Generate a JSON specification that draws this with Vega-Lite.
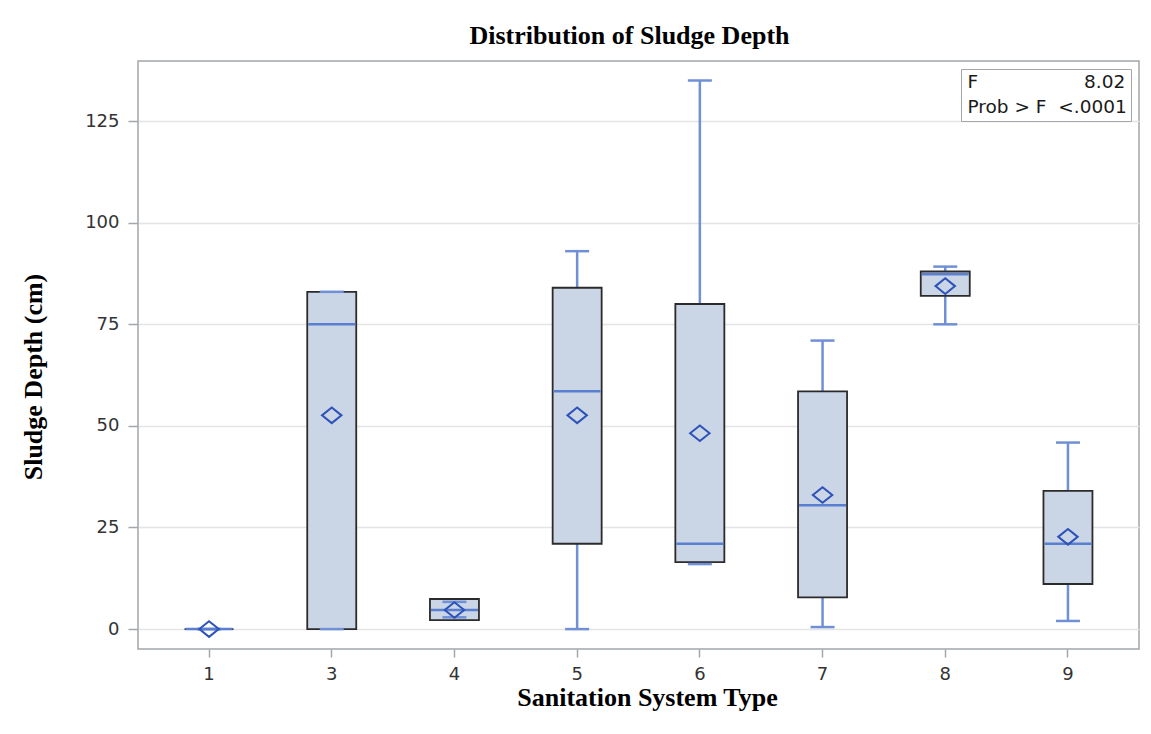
{
  "$schema": "https://vega.github.io/schema/vega-lite/v6.json",
  "width": 1001,
  "height": 588,
  "autosize": "none",
  "padding": {"left": 138, "top": 61, "right": 12, "bottom": 85},
  "background": "white",
  "title": {
    "text": "Distribution of Sludge Depth",
    "font": "Liberation Serif",
    "fontSize": 26,
    "fontWeight": "bold",
    "color": "#000000",
    "anchor": "middle",
    "baseline": "alphabetic",
    "offset": -9,
    "dx": -9
  },
  "datasets": {
    "boxes": [
      {"type": "1", "min": 0, "q1": 0, "median": 0, "q3": 0, "max": 0, "mean": 0},
      {"type": "3", "min": 0, "q1": 0, "median": 75, "q3": 83, "max": 83, "mean": 52.6},
      {"type": "4", "min": 2.9, "q1": 2.2, "median": 4.7, "q3": 7.4, "max": 6.7, "mean": 4.7},
      {"type": "5", "min": 0, "q1": 21, "median": 58.5, "q3": 84, "max": 93, "mean": 52.6},
      {"type": "6", "min": 16, "q1": 16.5, "median": 21, "q3": 80, "max": 135, "mean": 48.2},
      {"type": "7", "min": 0.5, "q1": 7.8, "median": 30.5, "q3": 58.5, "max": 71, "mean": 33},
      {"type": "8", "min": 75, "q1": 82, "median": 87.3, "q3": 88, "max": 89.2, "mean": 84.4},
      {"type": "9", "min": 2, "q1": 11.1, "median": 21, "q3": 34, "max": 45.9, "mean": 22.7}
    ],
    "stats": [
      {"stat": "F\u00a0\u00a0\u00a0\u00a0\u00a0\u00a0\u00a0\u00a0\u00a0\u00a0\u00a0\u00a0\u00a0\u00a0\u00a0\u00a0\u00a0\u00a08.02"},
      {"stat": "Prob > F\u00a0\u00a0<.0001"}
    ]
  },
  "layer": [
    {
      "data": {"name": "boxes"},
      "encoding": {
        "x": {
          "field": "type",
          "type": "nominal",
          "sort": ["1", "3", "4", "5", "6", "7", "8", "9"],
          "scale": {"paddingInner": 0, "paddingOuter": 0.079},
          "axis": {
            "title": "Sanitation System Type",
            "titleX": 509,
            "titleY": 56,
            "titleAlign": "center",
            "titleBaseline": "alphabetic"
          }
        }
      },
      "layer": [
        {
          "mark": {"type": "rule", "color": "#6f90d6", "strokeWidth": 2.5},
          "encoding": {
            "y": {
              "field": "min",
              "type": "quantitative",
              "scale": {"domain": [-4.9, 139.8], "nice": false, "zero": false},
              "axis": {
                "title": "Sludge Depth (cm)",
                "values": [0, 25, 50, 75, 100, 125],
                "titleX": -97,
                "titleY": 315.5,
                "titleAlign": "center",
                "titleBaseline": "alphabetic"
              }
            },
            "y2": {"field": "q1"}
          }
        },
        {
          "mark": {"type": "rule", "color": "#6f90d6", "strokeWidth": 2.5},
          "encoding": {
            "y": {"field": "q3", "type": "quantitative"},
            "y2": {"field": "max"}
          }
        },
        {
          "mark": {"type": "bar", "width": 49, "fill": "#cad5e6", "stroke": "#2b2b2b", "strokeWidth": 1.8},
          "encoding": {
            "y": {"field": "q1", "type": "quantitative"},
            "y2": {"field": "q3"}
          }
        },
        {
          "mark": {"type": "tick", "size": 24, "thickness": 2.5, "color": "#6f90d6", "opacity": 1},
          "encoding": {"y": {"field": "min", "type": "quantitative"}}
        },
        {
          "mark": {"type": "tick", "size": 24, "thickness": 2.5, "color": "#6f90d6", "opacity": 1},
          "encoding": {"y": {"field": "max", "type": "quantitative"}}
        },
        {
          "mark": {"type": "tick", "size": 47, "thickness": 2.5, "color": "#5b7fd0", "opacity": 1},
          "encoding": {"y": {"field": "median", "type": "quantitative"}}
        },
        {
          "mark": {
            "type": "point",
            "shape": "M-1,0L0,-0.8L1,0L0,0.8Z",
            "size": 380,
            "filled": false,
            "stroke": "#2d52b8",
            "strokeWidth": 2,
            "opacity": 1
          },
          "encoding": {"y": {"field": "mean", "type": "quantitative"}}
        }
      ]
    },
    {
      "data": {"name": "stats"},
      "mark": {"type": "point", "opacity": 0},
      "encoding": {
        "shape": {
          "field": "stat",
          "type": "nominal",
          "scale": {"domain": [
            "F\u00a0\u00a0\u00a0\u00a0\u00a0\u00a0\u00a0\u00a0\u00a0\u00a0\u00a0\u00a0\u00a0\u00a0\u00a0\u00a0\u00a0\u00a08.02",
            "Prob > F\u00a0\u00a0<.0001"
          ]},
          "legend": {"title": null}
        }
      }
    }
  ],
  "config": {
    "view": {"stroke": "#a3a7ab", "strokeWidth": 1.5},
    "axis": {
      "domain": false,
      "labelFont": "DejaVu Sans",
      "labelFontSize": 18,
      "labelColor": "#333333",
      "tickColor": "#a3a7ab",
      "tickWidth": 1.5,
      "titleFont": "Liberation Serif",
      "titleFontSize": 26,
      "titleFontWeight": "bold",
      "titleColor": "#000000"
    },
    "axisX": {"labelAngle": 0, "tickSize": 8, "labelPadding": 8, "grid": false},
    "axisY": {
      "tickSize": 10,
      "labelPadding": 9,
      "grid": true,
      "gridColor": "#e4e4e4",
      "gridWidth": 1.5
    },
    "legend": {
      "orient": "top-right",
      "offset": 8,
      "strokeColor": "#a3a7ab",
      "fillColor": "white",
      "padding": 4,
      "labelFont": "DejaVu Sans",
      "labelFontSize": 18.5,
      "labelColor": "#1a1a1a",
      "labelLimit": 0,
      "labelOffset": -16,
      "symbolSize": 0,
      "symbolOpacity": 0,
      "symbolStrokeWidth": 0,
      "rowPadding": 6
    }
  }
}
